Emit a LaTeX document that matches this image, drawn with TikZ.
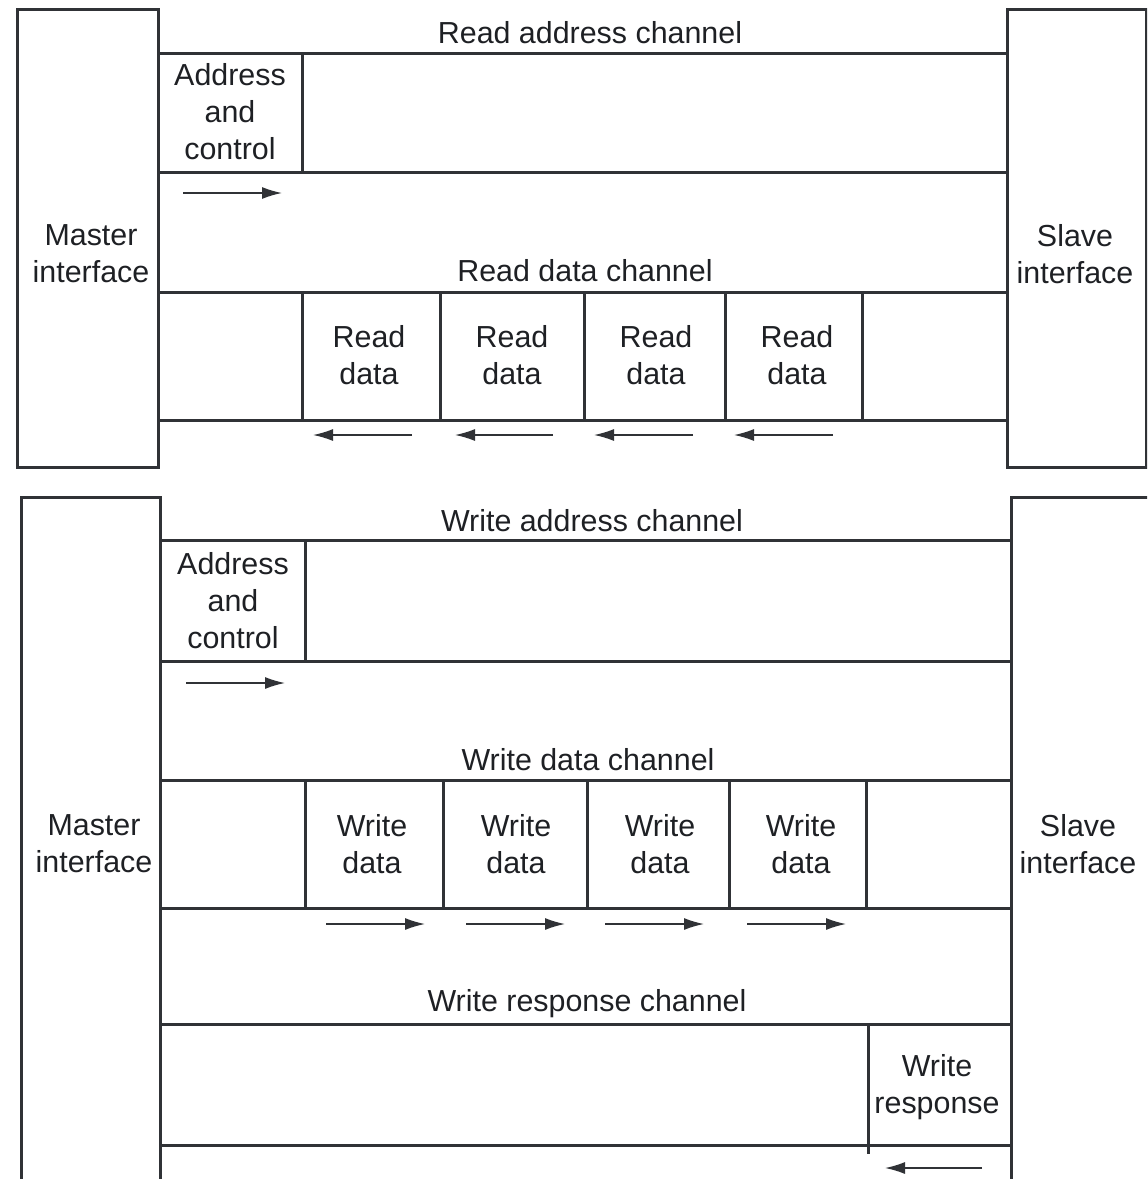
\documentclass[tikz,border=0pt]{standalone}
\usepackage{fontspec}
\setmainfont{Liberation Sans}
\usetikzlibrary{arrows.meta}
\definecolor{ln}{HTML}{303236}
\definecolor{tx}{HTML}{1E2024}
\begin{document}
\begin{tikzpicture}[x=0.5pt,y=-0.5pt,
  frame/.style={draw=ln,line width=1.5pt,line cap=rect},
  lbl/.style={text=tx,font=\fontsize{15.2}{18.5}\selectfont,align=center,inner sep=0pt},
  flow/.style={draw=ln,line width=0.75pt,-{Latex[length=10pt,width=6pt]}}]
\useasboundingbox (0,0) rectangle (1147,1179);
\clip (0,0) rectangle (1147,1179);
% ---------------- Read section ----------------
\draw[frame] (17,9) rectangle (158,467);
\draw[frame] (1007,9) rectangle (1146,467);
\foreach \y in {53,172,292,420} \draw[frame] (158,\y) -- (1007,\y);
\draw[frame] (302,53) -- (302,172);
\foreach \x in {302,440,584,725,862} \draw[frame] (\x,292) -- (\x,420);
\node[lbl] (rac) at (590,33) {Read address channel};
\node[lbl] (rdc) at (585,271) {Read data channel};
\node[lbl] (rmi) at (91,254) {Master\\interface};
\node[lbl] (rsi) at (1075,254) {Slave\\interface};
\node[lbl] (rac1) at (230,112) {Address\\and\\control};
\node[lbl] (rd1) at (369,355) {Read\\data};
\node[lbl] (rd2) at (512,355) {Read\\data};
\node[lbl] (rd3) at (656,355) {Read\\data};
\node[lbl] (rd4) at (797,355) {Read\\data};
\coordinate (ra0) at (183,193); \coordinate (ra1) at (282,193);
\draw[flow] (ra0) -- (ra1);
\foreach \s/\e [count=\i] in {412/313,553/455,693/594,833/734}{
  \coordinate (rds\i) at (\s,435); \coordinate (rde\i) at (\e,435);
  \draw[flow] (rds\i) -- (rde\i);}
% ---------------- Write section ----------------
\draw[frame] (160,1190) -- (160,497) -- (21,497) -- (21,1190);
\draw[frame] (1011,1190) -- (1011,497) -- (1160,497);
\foreach \y in {540,661,780,908,1024,1145} \draw[frame] (160,\y) -- (1011,\y);
\draw[frame] (305,540) -- (305,661);
\foreach \x in {305,443,587,729,866} \draw[frame] (\x,780) -- (\x,908);
\draw[frame] (868,1024) -- (868,1152);
\node[lbl] (wac) at (592,521) {Write address channel};
\node[lbl] (wdc) at (588,760) {Write data channel};
\node[lbl] (wrc) at (587,1004) {Write response channel};
\node[lbl] (wmi) at (94,844) {Master\\interface};
\node[lbl] (wsi) at (1078,844) {Slave\\interface};
\node[lbl] (wac1) at (233,601) {Address\\and\\control};
\node[lbl] (wd1) at (372,844) {Write\\data};
\node[lbl] (wd2) at (516,844) {Write\\data};
\node[lbl] (wd3) at (660,844) {Write\\data};
\node[lbl] (wd4) at (801,844) {Write\\data};
\node[lbl] (wr) at (937,1087) {Write\\response};
\coordinate (wa0) at (186,683); \coordinate (wa1) at (285,683);
\draw[flow] (wa0) -- (wa1);
\foreach \s/\e [count=\i] in {326/425,466/565,605/704,747/846}{
  \coordinate (wds\i) at (\s,924); \coordinate (wde\i) at (\e,924);
  \draw[flow] (wds\i) -- (wde\i);}
\coordinate (wr0) at (982,1168); \coordinate (wr1) at (885,1168);
\draw[flow] (wr0) -- (wr1);
\end{tikzpicture}
\end{document}
